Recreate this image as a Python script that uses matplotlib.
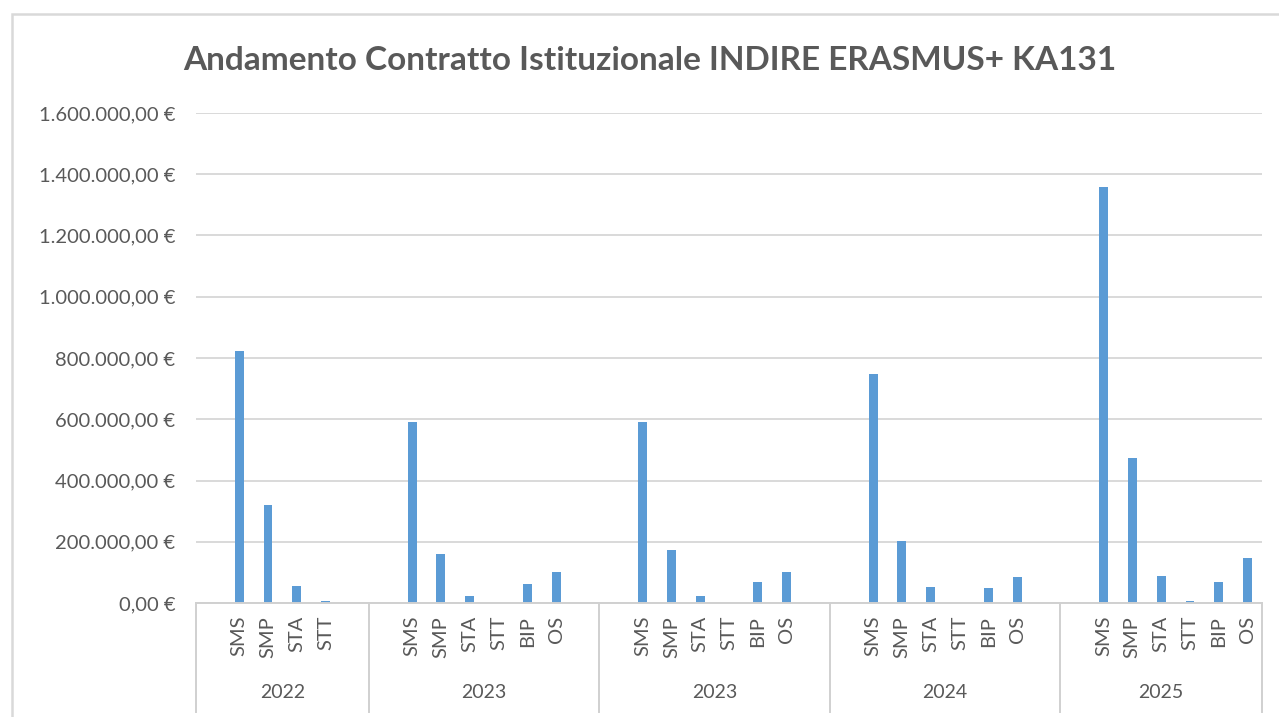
import matplotlib
matplotlib.use("Agg")
import matplotlib.pyplot as plt
from matplotlib.ticker import FuncFormatter, MultipleLocator
from matplotlib.patches import Rectangle
import matplotlib.transforms as mtransforms

# ---- data ----
years = ["2022", "2023", "2023", "2024", "2025"]
items_2022 = ["SMS", "SMP", "STA", "STT"]
items_std = ["SMS", "SMP", "STA", "STT", "BIP", "OS"]
values_2022 = [823000, 320000, 55000, 6000]
values_2023a = [592000, 161000, 23000, 0, 61000, 102000]
values_2023b = [592000, 173000, 23000, 0, 68000, 102000]
values_2024 = [748000, 202000, 52000, 0, 48000, 85000]
values_2025 = [1358000, 474000, 89000, 6000, 68000, 148000]

group_items = [items_2022, items_std, items_std, items_std, items_std]
group_values = [values_2022, values_2023a, values_2023b, values_2024, values_2025]
# category slots per group (includes empty slots as in the source sheet)
group_slots = [6, 8, 8, 8, 7]

BAR = "#5B9BD5"
TXT = "#595959"
GRID = "#D9D9D9"
AXL = "#D0D0D0"

plt.rcParams["font.family"] = ["Lato", "DejaVu Sans"]

fig = plt.figure(figsize=(12.79, 7.17), dpi=100)
ax = fig.add_axes([196 / 1279, 1 - 603 / 717, (1262 - 196) / 1279, 490 / 717])

# outer chart border
fig.patches.append(Rectangle((12 / 1279, -0.1), 1.2, 1 - 14 / 717 + 0.1,
                             transform=fig.transFigure, fill=False,
                             edgecolor=GRID, lw=1.8, zorder=0))

xs, hs, labels = [], [], []
starts = []
s = 0
for items, vals, slots in zip(group_items, group_values, group_slots):
    starts.append(s)
    for i, (it, v) in enumerate(zip(items, vals)):
        xs.append(s + 1 + i + 0.5)
        hs.append(v)
        labels.append(it)
    s += slots
total = s

ax.bar(xs, hs, width=0.31, color=BAR, zorder=3)
ax.set_xlim(0, total)
ax.set_ylim(0, 1600000)
ax.yaxis.set_major_locator(MultipleLocator(200000))


def eur(v, pos):
    t = "{:,.2f}".format(v).replace(",", "X").replace(".", ",").replace("X", ".")
    return t + " €"


ax.yaxis.set_major_formatter(FuncFormatter(eur))
ax.grid(axis="y", color=GRID, lw=1.4, zorder=0)
for sp in ax.spines.values():
    sp.set_visible(False)
ax.tick_params(axis="y", length=0, pad=15, labelsize=14.5, labelcolor=TXT)
ax.set_xticks([])

trans = mtransforms.blended_transform_factory(ax.transData, ax.transAxes)
bottom = -109 / 490
# baseline
ax.plot([0, total], [0, 0], transform=trans, color=AXL, lw=1.4, clip_on=False, zorder=4)
# group dividers
for b in starts + [total]:
    ax.plot([b, b], [0, bottom], transform=trans, color=AXL, lw=1.4, clip_on=False)
# item labels
for x, lab in zip(xs, labels):
    ax.text(x, -13 / 490, lab, transform=trans, rotation=90, ha="center", va="top",
            fontsize=14.5, color=TXT)
# year labels
for st, sl, yr in zip(starts, group_slots, years):
    ax.text(st + sl / 2, -90 / 490, yr, transform=trans, ha="center", va="center",
            fontsize=14, color=TXT)

fig.text(650 / 1279, 1 - 60 / 717, "Andamento Contratto Istituzionale INDIRE ERASMUS+ KA131",
         ha="center", va="center", fontsize=24, fontweight="bold", color=TXT)

fig.savefig("out.png", dpi=100)
